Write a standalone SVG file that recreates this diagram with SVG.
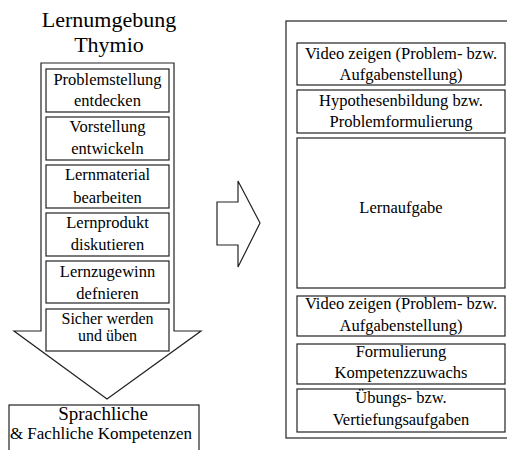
<svg xmlns="http://www.w3.org/2000/svg" width="507" height="450" viewBox="0 0 507 450">
<defs>
<polygon id="downArrowShape" points="41,63 174,63 174,331 201,331 107,399 14,331 41,331"/>
</defs>
<rect width="507" height="450" fill="#fff"/>
<g id="connectors" fill="#fff" stroke="#222" stroke-width="1.2">
<use id="downArrow" href="#downArrowShape"/>
<polygon id="rightArrow" points="217,202 238,202 238,181 260,223 238,267 238,245 217,245"/>
</g>
<g id="boxes" fill="#fff" stroke="#222" stroke-width="1.2">
<rect id="rightFrameBox" x="286" y="21" width="230" height="417" fill="none"/>
<rect x="46" y="69" width="123" height="43"/>
<rect x="46" y="117" width="123" height="43"/>
<rect x="46" y="165" width="123" height="43"/>
<rect x="46" y="213" width="123" height="43"/>
<rect x="46" y="261" width="123" height="42"/>
<rect x="46" y="309" width="123" height="42"/>
<rect x="9" y="405" width="190" height="60"/>
<rect x="297" y="43" width="208" height="42"/>
<rect x="297" y="90" width="208" height="43"/>
<rect x="297" y="138" width="208" height="150"/>
<rect x="297" y="296" width="208" height="40"/>
<rect x="297" y="344" width="208" height="40"/>
<rect x="297" y="389" width="208" height="43"/>
</g>
<g id="title">
<text x="109" y="27" font-family="Liberation Serif" font-size="22" text-anchor="middle">Lernumgebung</text>
<text x="109" y="52" font-family="Liberation Serif" font-size="22" text-anchor="middle">Thymio</text>
</g>
<g id="l1"><text x="107.5" y="85" font-family="Liberation Serif" font-size="16.5" text-anchor="middle">Problemstellung</text><text x="107.5" y="106" font-family="Liberation Serif" font-size="16.5" text-anchor="middle">entdecken</text></g>
<g id="l2"><text x="107.5" y="132" font-family="Liberation Serif" font-size="16.5" text-anchor="middle">Vorstellung</text><text x="107.5" y="154" font-family="Liberation Serif" font-size="16.5" text-anchor="middle">entwickeln</text></g>
<g id="l3"><text x="107.5" y="180" font-family="Liberation Serif" font-size="16.5" text-anchor="middle">Lernmaterial</text><text x="107.5" y="203" font-family="Liberation Serif" font-size="16.5" text-anchor="middle">bearbeiten</text></g>
<g id="l4"><text x="107.5" y="228" font-family="Liberation Serif" font-size="16.5" text-anchor="middle">Lernprodukt</text><text x="107.5" y="250" font-family="Liberation Serif" font-size="16.5" text-anchor="middle">diskutieren</text></g>
<g id="l5"><text x="107.5" y="277" font-family="Liberation Serif" font-size="16.5" text-anchor="middle">Lernzugewinn</text><text x="107.5" y="299" font-family="Liberation Serif" font-size="16.5" text-anchor="middle">defnieren</text></g>
<g id="l6"><text x="107.5" y="324" font-family="Liberation Serif" font-size="16" text-anchor="middle">Sicher werden</text><text x="107.5" y="341" font-family="Liberation Serif" font-size="16" text-anchor="middle">und üben</text></g>
<g id="result"><text x="103" y="420" font-family="Liberation Serif" font-size="19" text-anchor="middle">Sprachliche</text><text x="101" y="439" font-family="Liberation Serif" font-size="17" text-anchor="middle">&amp; Fachliche Kompetenzen</text></g>
<g id="r1"><text x="401" y="59" font-family="Liberation Serif" font-size="16.5" text-anchor="middle">Video zeigen (Problem- bzw.</text><text x="401" y="80" font-family="Liberation Serif" font-size="16.5" text-anchor="middle">Aufgabenstellung)</text></g>
<g id="r2"><text x="401" y="106" font-family="Liberation Serif" font-size="16.5" text-anchor="middle">Hypothesenbildung bzw.</text><text x="401" y="127" font-family="Liberation Serif" font-size="16.5" text-anchor="middle">Problemformulierung</text></g>
<g id="r3"><text x="401" y="213" font-family="Liberation Serif" font-size="16.5" text-anchor="middle">Lernaufgabe</text></g>
<g id="r4"><text x="401" y="309" font-family="Liberation Serif" font-size="16.5" text-anchor="middle">Video zeigen (Problem- bzw.</text><text x="401" y="331" font-family="Liberation Serif" font-size="16.5" text-anchor="middle">Aufgabenstellung)</text></g>
<g id="r5"><text x="401" y="357" font-family="Liberation Serif" font-size="16.5" text-anchor="middle">Formulierung</text><text x="401" y="378" font-family="Liberation Serif" font-size="16.5" text-anchor="middle">Kompetenzzuwachs</text></g>
<g id="r6"><text x="401" y="403" font-family="Liberation Serif" font-size="16.5" text-anchor="middle">Übungs- bzw.</text><text x="401" y="425" font-family="Liberation Serif" font-size="16.5" text-anchor="middle">Vertiefungsaufgaben</text></g>
</svg>
